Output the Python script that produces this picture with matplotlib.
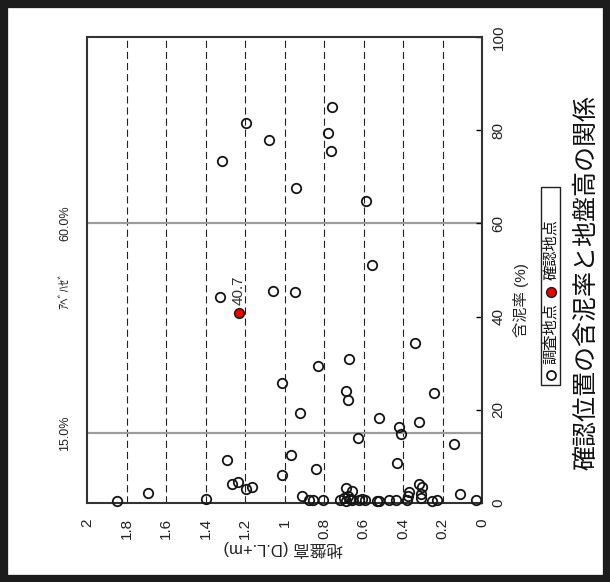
import matplotlib
matplotlib.use('Agg')
import matplotlib.pyplot as plt
from matplotlib.patches import Rectangle
from matplotlib.lines import Line2D

plt.rcParams['font.family'] = ['Liberation Sans', 'Noto Sans CJK JP', 'DejaVu Sans']

# ---- data: ground height (D.L.+m) and mud content (%) ----
survey_height = [1.196, 1.08, 1.315, 0.761, 0.778, 0.765, 0.943, 0.587,
                 1.327, 1.06, 1.014, 0.557, 0.947, 0.339, 0.675, 0.832,
                 0.687, 0.68, 0.245, 1.85, 1.69, 1.397, 1.29, 1.266,
                 1.235, 1.197, 1.165, 1.011, 0.921, 0.523, 0.419, 0.412,
                 0.319, 0.628, 0.14, 0.969, 0.839, 0.432, 0.689, 0.658,
                 0.317, 0.302, 0.911, 0.877, 0.854, 0.804, 0.72, 0.70,
                 0.69, 0.68, 0.67, 0.66, 0.623, 0.609, 0.594, 0.53,
                 0.52, 0.473, 0.435, 0.38, 0.376, 0.368, 0.31, 0.307,
                 0.253, 0.226, 0.11, 0.032]
survey_mud = [81.5, 78.0, 73.3, 85.0, 79.5, 75.6, 67.7, 64.8,
              44.3, 45.6, 25.7, 51.1, 45.3, 34.3, 30.9, 29.5,
              24.0, 22.0, 23.5, 0.4, 2.2, 0.8, 9.2, 4.0,
              4.4, 2.9, 3.4, 6.1, 19.4, 18.2, 16.3, 14.7,
              17.3, 14.0, 12.6, 10.2, 7.4, 8.5, 3.2, 2.6,
              4.0, 3.4, 1.5, 0.6, 0.6, 0.7, 0.7, 1.0,
              0.5, 1.5, 0.8, 0.6, 0.6, 0.8, 0.6, 0.5,
              0.5, 0.6, 0.6, 0.7, 1.5, 2.3, 2.0, 1.0,
              0.5, 0.6, 2.0, 0.6]
confirm_height = [1.23]
confirm_mud = [40.7]
confirm_labels = ['40.7']

height_ticks = [2, 1.8, 1.6, 1.4, 1.2, 1.0, 0.8, 0.6, 0.4, 0.2, 0]
height_tick_labels = ['2', '1.8', '1.6', '1.4', '1.2', '1', '0.8', '0.6', '0.4', '0.2', '0']
grid_heights = [1.8, 1.6, 1.4, 1.2, 1.0, 0.8, 0.6, 0.4, 0.2]
mud_ticks = [0, 20, 40, 60, 80, 100]
mud_tick_labels = ['0', '20', '40', '60', '80', '100']
ref_lines = [15, 60]
ref_labels = ['15.0%', '60.0%']
species_label = 'ｱﾍﾞﾊｾﾞ'
title = '確認位置の含泥率と地盤高の関係'
mud_label = '含泥率 (%)'
height_label = '地盤高 (D.L.+m)'
legend_labels = ['調査地点', '確認地点']

W, H = 610, 582
fig = plt.figure(figsize=(W / 100, H / 100), dpi=100)


def fx(px):
    return px / W


def fy(py):
    return 1 - py / H


L, R, T, B = 87, 482, 37, 503
ax = fig.add_axes([fx(L), fy(B), (R - L) / W, (B - T) / H])
ax.set_xlim(2, 0)
ax.set_ylim(0, 100)

for g in grid_heights:
    ax.axvline(g, color='#222222', lw=0.8, dashes=(6.5, 3.5), zorder=1)
for r in ref_lines:
    ax.axhline(r, color='#9c9c9c', lw=1.6, zorder=1)

ax.plot(survey_height, survey_mud, ls='none', marker='o', ms=6.8,
        mfc='none', mec='#151515', mew=1.3, zorder=3, clip_on=False)
ax.plot(confirm_height, confirm_mud, ls='none', marker='o', ms=7,
        mfc='#ee0000', mec='#222222', mew=1.1, zorder=4)
for xh, ym, lab in zip(confirm_height, confirm_mud, confirm_labels):
    ax.annotate(lab, (xh, ym), xytext=(0, 6), textcoords='offset points',
                rotation=90, ha='center', va='bottom', fontsize=11,
                color='#333333')

for s in ax.spines.values():
    s.set_linewidth(1.5)
    s.set_color('#333333')

ax.set_xticks(height_ticks)
ax.set_xticklabels(height_tick_labels)
ax.tick_params(axis='x', length=0, pad=11, labelrotation=90, labelsize=11,
               labelcolor='#222222')
ax.yaxis.tick_right()
ax.set_yticks(mud_ticks)
ax.set_yticklabels(mud_tick_labels)
ax.tick_params(axis='y', direction='in', length=4, width=1, pad=7,
               labelrotation=90, labelsize=11, labelcolor='#222222')
for lab in ax.get_yticklabels():
    lab.set_va('center')

# axis titles
fig.text(fx(521), fy(300), mud_label, rotation=90, ha='center', va='center',
         fontsize=11, color='#222222')
fig.text(fx(283), fy(548), height_label, rotation=180, ha='center',
         va='center', fontsize=12, color='#222222')
fig.text(fx(586), fy(283), title, rotation=90, ha='center', va='center',
         fontsize=18, color='#111111')

# reference labels at the left
for r, lab in zip(ref_lines, ref_labels):
    py = B - (B - T) * r / 100
    fig.text(fx(65), fy(py), lab, rotation=90, ha='center', va='center',
             fontsize=9, color='#222222')
fig.text(fx(65), fy(290), species_label, rotation=90, ha='center',
         va='center', fontsize=9, color='#222222')

# legend (rotated)
fig.add_artist(Rectangle((fx(541), fy(385)), (560 - 541) / W, (385 - 187) / H,
                         transform=fig.transFigure, fill=False,
                         ec='#222222', lw=1.0))
fig.add_artist(Line2D([fx(550.5)], [fy(375)], marker='o', ms=6.5, mfc='none',
                      mec='#151515', mew=1.3, transform=fig.transFigure))
fig.text(fx(550.5), fy(334), legend_labels[0], rotation=90, ha='center',
         va='center', fontsize=11, color='#111111')
fig.add_artist(Line2D([fx(550.5)], [fy(292)], marker='o', ms=7, mfc='#ee0000',
                      mec='#222222', mew=1.1, transform=fig.transFigure))
fig.text(fx(550.5), fy(250), legend_labels[1], rotation=90, ha='center',
         va='center', fontsize=11, color='#111111')

# outer dark frame
fig.add_artist(Rectangle((0, 0), 1, 1, transform=fig.transFigure, fill=False,
                         ec='#1c1c1c', lw=11))

fig.savefig('out.png', dpi=100)
